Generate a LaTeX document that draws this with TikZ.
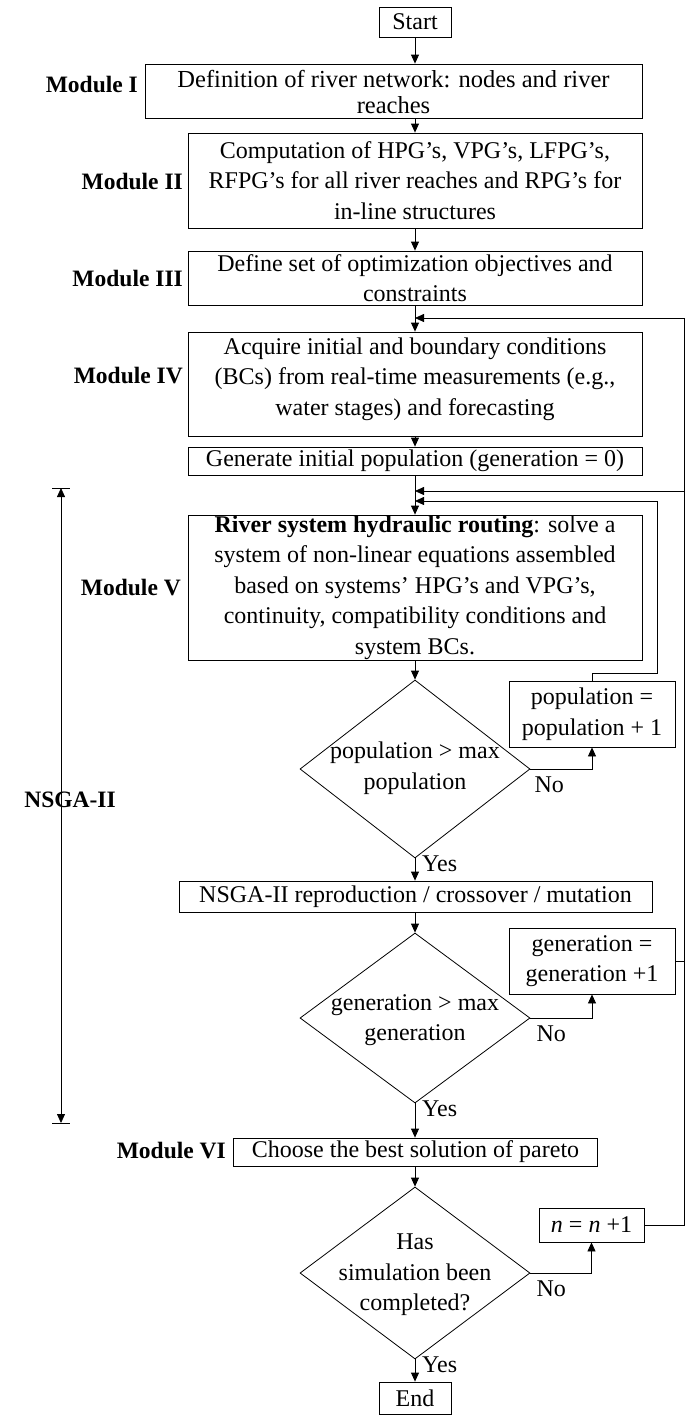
\documentclass[tikz,border=0pt]{standalone}
\usepackage{fontspec}
\setmainfont{Liberation Serif}
\usetikzlibrary{arrows.meta,shapes.geometric,calc}
\newcommand\fsz{\fontsize{24}{30.5}\selectfont}
\newcommand\fone{\fontsize{24.5}{26}\selectfont}
\newcommand\lsz{\fontsize{23.5}{30.5}\selectfont}
\tikzset{
  box/.style={draw, line width=0.8pt, inner sep=0pt, align=center, font=\fsz},
  dia/.style={draw, line width=0.8pt, diamond, inner sep=0pt},
  txt/.style={inner sep=0pt, align=center, font=\fsz},
  modlabel/.style={inner sep=0pt, font=\lsz\bfseries, anchor=east},
  lbl/.style={inner sep=0pt, font=\fsz},
  arr/.style={line width=0.8pt, -{Triangle[length=9pt,width=8pt]}},
  ln/.style={line width=0.8pt},
}
\begin{document}
\begin{tikzpicture}[x=1pt,y=-1pt]
\useasboundingbox (0,0) rectangle (685,1416);
% boxes
\node[box, minimum width=72pt, minimum height=30pt] (start) at (415,22) {Start};
\node[box, minimum width=497pt, minimum height=54pt] (m1) at (393.5,91) {};
\node[txt, font=\fone] (m1t) at (393.5,91.5) {Definition of river network: nodes and river\\reaches};
\node[box, minimum width=454pt, minimum height=95pt] (m2) at (415,180.5) {Computation of HPG’s, VPG’s, LFPG’s,\\RFPG’s for all river reaches and RPG’s for\\in-line structures};
\node[box, minimum width=454pt, minimum height=54pt] (m3) at (415,278) {Define set of optimization objectives and\\constraints};
\node[box, minimum width=454pt, minimum height=104pt] (m4) at (415,384) {};
\node[txt] (m4t) at (415,379) {Acquire initial and boundary conditions\\(BCs) from real-time measurements (e.g.,\\water stages) and forecasting};
\node[box, minimum width=454pt, minimum height=28pt] (gen) at (415,461) {Generate initial population (generation = 0)};
\node[box, minimum width=454pt, minimum height=145pt] (m5) at (415,587.5) {\textbf{River system hydraulic routing}: solve a\\system of non-linear equations assembled\\based on systems’ HPG’s and VPG’s,\\continuity, compatibility conditions and\\system BCs.};
\node[dia, minimum width=230pt, minimum height=178pt] (d1) at (415,769) {};
\node[txt] (d1t) at (415,768) {population > max\\population};
\node[box, minimum width=166pt, minimum height=66pt] (pop) at (592,714) {population =\\population + 1};
\node[box, minimum width=473pt, minimum height=31pt] (nsga) at (415.5,896.5) {NSGA-II reproduction / crossover / mutation};
\node[dia, minimum width=230pt, minimum height=170pt] (d2) at (415,1018) {};
\node[txt] (d2t) at (415,1020) {generation > max\\generation};
\node[box, minimum width=166pt, minimum height=66pt] (genb) at (592,961) {generation =\\generation +1};
\node[box, minimum width=364pt, minimum height=28pt] (m6) at (415.5,1152) {Choose the best solution of pareto};
\node[dia, minimum width=230pt, minimum height=172pt] (d3) at (415,1273) {};
\node[txt] (d3t) at (415,1275) {Has\\simulation been\\completed?};
\node[box, minimum width=105pt, minimum height=34pt] (nb) at (591.5,1225) {\textit{n} = \textit{n} +1};
\node[box, minimum width=72pt, minimum height=32pt] (end) at (415,1398) {End};
% module labels
\node[modlabel] (l1) at (138,84) {Module I};
\node[modlabel] (l2) at (183,181) {Module II};
\node[modlabel] (l3) at (183,278) {Module III};
\node[modlabel] (l4) at (183,376) {Module IV};
\node[modlabel] (l5) at (181,588) {Module V};
\node[modlabel] (l6) at (226,1151) {Module VI};
\node[inner sep=0pt, font=\lsz\bfseries] (lns) at (70,800) {NSGA-II};
% main axis
\draw[arr] (start.south) -- (start.south |- m1.north);
\draw[arr] (start.south |- m1.south) -- (m2.north);
\draw[arr] (m2.south) -- (m3.north);
\draw[arr] (m3.south) -- (m4.north);
\draw[arr] (m4.south) -- (gen.north);
\draw[arr] (gen.south) -- (m5.north);
\draw[arr] (m5.south) -- (d1.north);
\draw[arr] (d1.south) -- (d1.south |- nsga.north);
\draw[arr] (d1.south |- nsga.south) -- (d2.north);
\draw[arr] (d2.south) -- (d2.south |- m6.north);
\draw[arr] (d2.south |- m6.south) -- (d3.north);
\draw[arr] (d3.south) -- (end.north);
% yes / no labels
\node[lbl, anchor=north west] (y1) at ($(d1.south)+(7,-3)$) {Yes};
\node[lbl, anchor=north west] (y2) at ($(d2.south)+(7,-3)$) {Yes};
\node[lbl, anchor=north west] (y3) at ($(d3.south)+(7,-3)$) {Yes};
\draw[arr] (d1.east) -| (pop.south);
\draw[arr] (d2.east) -| (genb.south);
\draw[arr] (d3.east) -| (nb.south);
\node[lbl, anchor=north west] (n1) at ($(d1.east)+(4,8)$) {No};
\node[lbl, anchor=north west] (n2) at ($(d2.east)+(6,8)$) {No};
\node[lbl, anchor=north west] (n3) at ($(d3.east)+(6,8)$) {No};
% feedback loops
\coordinate (fA) at (415,318);
\coordinate (fB) at (415,491);
\coordinate (fC) at (415,501);
\draw[arr] (nb.east) -- (684,1225) -- (684,318) -- (fA);
\draw[arr] (genb.east) -- (684,961) -- (684,491) -- (fB);
\draw[arr] (pop.north) -- (592,673) -- (657,673) -- (657,501) -- (fC);
% NSGA-II range
\coordinate (nt) at (61,488);
\coordinate (nbm) at (61,1123);
\draw[line width=0.8pt, {Triangle[length=9pt,width=8pt]}-{Triangle[length=9pt,width=8pt]}] (nt) -- (nbm);
\draw[ln] ($(nt)+(-9,0)$) -- ($(nt)+(9,0)$);
\draw[ln] ($(nbm)+(-9,0)$) -- ($(nbm)+(9,0)$);
\end{tikzpicture}
\end{document}
